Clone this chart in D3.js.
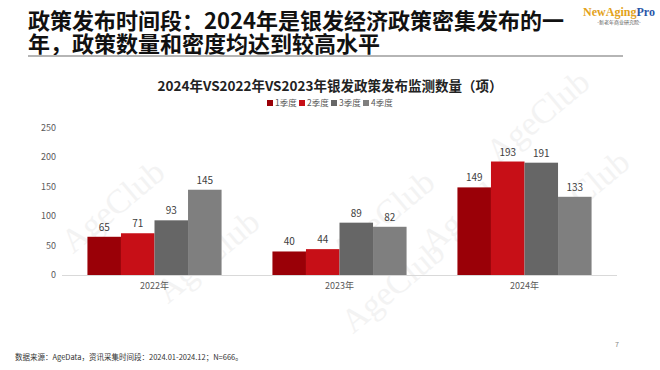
<!DOCTYPE html>
<html>
<head>
<meta charset="utf-8">
<script src="https://cdn.jsdelivr.net/npm/d3@7"></script>
<style>
  body { margin: 0; background: #fff; }
  svg { display: block; font-family: "Noto Sans CJK SC", "Noto Sans", sans-serif; }
</style>
</head>
<body>
<svg id="chart" width="660" height="370"></svg>
<script>
const years = ["2022年", "2023年", "2024年"];
const quarters = ["1季度", "2季度", "3季度", "4季度"];
const q1 = [65, 40, 149];
const q2 = [71, 44, 193];
const q3 = [93, 89, 191];
const q4 = [145, 82, 133];
const yTicks = [0, 50, 100, 150, 200, 250];
const colors = ["#9a0007", "#c70f17", "#666666", "#7f7f7f"];

const series = [q1, q2, q3, q4];

const svg = d3.select("#chart");

// watermarks
const marks = [[120, 215], [215, 265], [390, 225], [480, 215], [545, 125], [400, 295], [585, 205]];
svg.append("g").selectAll("text")
  .data(marks)
  .enter()
  .append("text")
  .attr("transform", d => `translate(${d[0]},${d[1]}) rotate(-40)`)
  .attr("text-anchor", "middle")
  .style("font-family", "Liberation Serif, serif")
  .style("font-size", "34px")
  .attr("fill", "#f3f3f3")
  .text("AgeClub");

// page title
const title = svg.append("text").style("font-weight", "700").style("font-size", "22px").attr("fill", "#111");
title.append("tspan").attr("x", 28).attr("y", 29).text("政策发布时间段：2024年是银发经济政策密集发布的一");
title.append("tspan").attr("x", 28).attr("y", 52).text("年，政策数量和密度均达到较高水平");

svg.append("line")
  .attr("x1", 28).attr("x2", 623)
  .attr("y1", 56).attr("y2", 56)
  .attr("stroke", "#b5b5b5").attr("stroke-width", 2);

// logo
const logo = svg.append("text").attr("x", 619).attr("y", 16)
  .attr("text-anchor", "middle")
  .style("font-family", "Liberation Serif, serif")
  .style("font-weight", "700")
  .style("font-size", "12px");
logo.append("tspan").attr("fill", "#e3a21a").text("NewAging");
logo.append("tspan").attr("fill", "#2a56a8").text("Pro");
svg.append("text").attr("x", 619).attr("y", 24)
  .attr("text-anchor", "middle")
  .style("font-size", "5px").attr("fill", "#555")
  .text("-新老年商业研究院-");

// chart title
svg.append("text")
  .attr("x", 330).attr("y", 91)
  .attr("text-anchor", "middle")
  .style("font-size", "13.5px").style("font-weight", "700")
  .attr("fill", "#222")
  .text("2024年VS2022年VS2023年银发政策发布监测数量（项）");

// legend
const legend = svg.append("g").attr("transform", "translate(267,106)");
const li = legend.selectAll("g")
  .data(quarters)
  .enter()
  .append("g")
  .attr("transform", (d, i) => `translate(${i * 32},0)`);
li.append("rect").attr("x", 0).attr("y", -6).attr("width", 6).attr("height", 6)
  .attr("fill", (d, i) => colors[i]);
li.append("text").attr("x", 8).attr("y", 0)
  .style("font-size", "8.5px").attr("fill", "#595959")
  .text(d => d);

// scales
const x0 = d3.scaleBand()
  .domain(years)
  .range([62, 617])
  .paddingInner(0.275)
  .paddingOuter(0.1375);

const x1 = d3.scaleBand()
  .domain(d3.range(quarters.length))
  .range([0, x0.bandwidth()]);

const y = d3.scaleLinear()
  .domain([0, 250])
  .range([275, 128]);

// y axis labels
svg.append("g").selectAll("text")
  .data(yTicks)
  .enter()
  .append("text")
  .attr("x", 56).attr("y", d => y(d) + 3)
  .attr("text-anchor", "end")
  .style("font-size", "9px").attr("fill", "#595959")
  .text(d => d);

// bars
const groups = svg.append("g").selectAll("g")
  .data(years)
  .enter()
  .append("g")
  .attr("transform", d => `translate(${x0(d)},0)`);

groups.selectAll("rect")
  .data((d, i) => series.map((s, k) => ({ k, v: s[i] })))
  .enter()
  .append("rect")
  .attr("x", d => x1(d.k))
  .attr("width", x1.bandwidth())
  .attr("y", d => y(d.v))
  .attr("height", d => y(0) - y(d.v))
  .attr("fill", d => colors[d.k]);

groups.selectAll("text")
  .data((d, i) => series.map((s, k) => ({ k, v: s[i] })))
  .enter()
  .append("text")
  .attr("x", d => x1(d.k) + x1.bandwidth() / 2)
  .attr("y", d => y(d.v) - 6)
  .attr("text-anchor", "middle")
  .style("font-size", "10px").attr("fill", "#404040")
  .text(d => d.v);

// x axis
svg.append("line")
  .attr("x1", 62).attr("x2", 617)
  .attr("y1", y(0) + 0.5).attr("y2", y(0) + 0.5)
  .attr("stroke", "#d9d9d9");

svg.append("g").selectAll("text")
  .data(years)
  .enter()
  .append("text")
  .attr("x", d => x0(d) + x0.bandwidth() / 2)
  .attr("y", 289)
  .attr("text-anchor", "middle")
  .style("font-size", "9px").attr("fill", "#595959")
  .text(d => d);

// footer
svg.append("text")
  .attr("x", 15).attr("y", 360)
  .style("font-size", "7.5px").attr("fill", "#333")
  .text("数据来源：AgeData，资讯采集时间段：2024.01-2024.12；N=666。");

svg.append("text")
  .attr("x", 617).attr("y", 347)
  .attr("text-anchor", "middle")
  .style("font-size", "7px").attr("fill", "#888")
  .text("7");
</script>
</body>
</html>
